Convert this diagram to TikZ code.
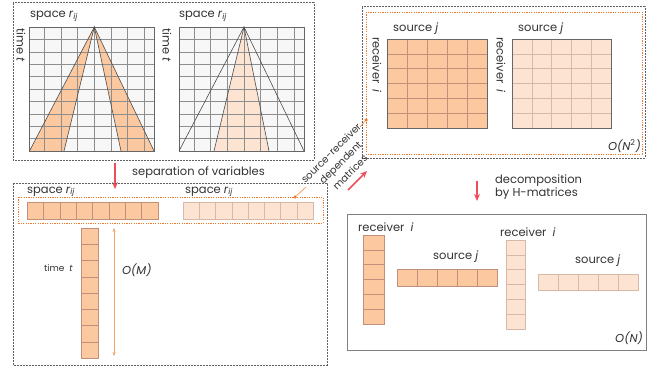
\documentclass[tikz,border=0pt]{standalone}
\usepackage{fontspec}
\setmainfont{Poppins}
\usetikzlibrary{arrows.meta}
\definecolor{orD}{HTML}{FCC8A0}
\definecolor{orDb}{HTML}{C0907A}
\definecolor{orL}{HTML}{FDE4D2}
\definecolor{orLb}{HTML}{D8B8A8}
\definecolor{gridbg}{HTML}{F7F7F7}
\definecolor{gridln}{HTML}{8E8E8E}
\definecolor{boxc}{HTML}{606060}
\definecolor{redar}{HTML}{F04E5A}
\definecolor{orln}{HTML}{F07828}
\tikzset{
  boxdash/.style={draw=boxc, line width=1pt, dash pattern=on 2pt off 1pt},
  boxsolid/.style={draw=boxc!80, line width=0.8pt},
  ordash/.style={draw=orln, line width=0.6pt, dash pattern=on 1.2pt off 1.2pt},
  gl/.style={draw=gridln, line width=0.45pt},
  tri/.style={draw=black!70, line width=0.6pt},
  dk/.style={fill=orD, draw=orDb, line width=0.5pt},
  lt/.style={fill=orL, draw=orLb, line width=0.5pt},
  redarrow/.style={draw=redar, line width=1.6pt, -{Stealth[length=7pt,width=6pt]}},
  lbl/.style={inner sep=0pt, text=black!80, font=\fontsize{11.5}{13.5}\selectfont},
  lead/.style={draw=orln, line width=0.5pt},
  dot/.style={circle, fill=orln, inner sep=0pt, minimum size=3.5pt}
}
\newcommand{\rij}{space \textit{r}\textsubscript{\textit{ij}}}
\begin{document}
\begin{tikzpicture}[x=1pt,y=-1pt]
\useasboundingbox[fill=white] (0,0) rectangle (659,369);

% ---------- top-left box ----------
\draw[boxdash] (13,3) rectangle (314,160);
% grid 1
\fill[gridbg] (29.5,27) rectangle (154,151);
\fill[orD] (94.3,27) -- (29.5,151) -- (64,151) -- cycle;
\fill[orD] (94.3,27) -- (121,151) -- (154,151) -- cycle;
\foreach \k in {-3,...,3} \draw[gl] ({94.3+\k*16.67},27) -- ++(0,124);
\foreach \r in {1,...,9} \draw[gl] (29.5,{27+\r*12.4}) -- (154,{27+\r*12.4});
\draw[gl, draw=black!60] (29.5,27) rectangle (154,151);
\draw[tri] (29.5,151) -- (94.3,27) -- (154,151);
\draw[tri] (64,151) -- (94.3,27) -- (121,151);
\node[lbl, anchor=base west] (sp1) at (30,18) {\rij};
\node[lbl, rotate=-90] (tm1) at (21,45) {time \textit{t}};
% grid 2
\fill[gridbg] (179,27) rectangle (304,151);
\fill[orL] (244,27) -- (214,151) -- (269,151) -- cycle;
\foreach \k in {-3,...,3} \draw[gl] ({244+\k*16.67},27) -- ++(0,124);
\foreach \r in {1,...,9} \draw[gl] (179,{27+\r*12.4}) -- (304,{27+\r*12.4});
\draw[gl, draw=black!60] (179,27) rectangle (304,151);
\draw[tri] (179,151) -- (244,27) -- (304,151);
\draw[tri] (214,151) -- (244,27) -- (269,151);
\node[lbl, anchor=base west] (sp2) at (179,18) {\rij};
\node[lbl, rotate=-90] (tm2) at (167,45) {time \textit{t}};

% ---------- top-right box ----------
\draw[boxdash] (362,7) rectangle (645,158);
\draw[ordash] (366,12) rectangle (642,154);
\foreach \c in {0,...,4} \foreach \r in {0,...,5}
  \draw[dk] ({387+\c*20},{39+\r*14.83}) rectangle ++(20,14.83);
\foreach \c in {0,...,4} \foreach \r in {0,...,5}
  \draw[lt] ({512+\c*19.8},{39+\r*14.83}) rectangle ++(19.8,14.83);
\draw[black!60, line width=0.6pt] (387,39) rectangle (487,128);
\draw[black!60, line width=0.6pt] (512,39) rectangle (611,128);
\node[lbl, anchor=base west] (so1) at (393,32) {source \textit{j}};
\node[lbl, anchor=base west] (so2) at (518,32) {source \textit{j}};
\node[lbl, rotate=-90, anchor=west] (re1) at (377,37) {receiver\ \ \textit{i}};
\node[lbl, rotate=-90, anchor=west] (re2) at (501,37) {receiver\ \ \textit{i}};
\node[lbl, anchor=base east] (on2) at (641,150) {\textit{O(N}\textsuperscript{2}\textit{)}};
\node[dot] (d1) at (366,120) {};

% ---------- arrow 1 & label ----------
\coordinate (a1s) at (115,163);
\coordinate (a1e) at (115,189);
\draw[redarrow] (a1s) -- (a1e);
\node[lbl, anchor=west] (sepv) at (132,173) {separation of variables};

% ---------- bottom-left box ----------
\draw[boxdash] (13,183) rectangle (327,365);
\draw[ordash] (18,197) rectangle (323,223);
\foreach \c in {0,...,7} \draw[dk] ({27+\c*16.375},202) rectangle ++(16.375,17);
\foreach \c in {0,...,7} \draw[lt] ({183+\c*16.25},202) rectangle ++(16.25,17);
\node[lbl, anchor=base west] (sp3) at (27,193) {\rij};
\node[lbl, anchor=base west] (sp4) at (185,193) {\rij};
\foreach \r in {0,...,7} \draw[dk] (81,{228+\r*16.25}) rectangle ++(17,16.25);
\node[lbl, font=\fontsize{9}{11}\selectfont, anchor=west] (tm3) at (44,268) {time\ \ \textit{t}};
\coordinate (om1) at (114,228);
\coordinate (om2) at (114,356);
\draw[draw=orln!70, line width=0.6pt, {Stealth[length=4pt,width=3pt]}-{Stealth[length=4pt,width=3pt]}] (om1) -- (om2);
\node[lbl, anchor=west] (omt) at (122,270) {\textit{O(M)}};
\node[dot] (d2) at (295,197) {};

% ---------- source-receiver label ----------
\node[lbl, rotate=45, align=center, font=\fontsize{10}{13.5}\selectfont] (srd) at (340.5,162.5)
  {source-receiver\\dependent\\matrices};
\coordinate (l1) at (306,187);
\coordinate (l2) at (360,127);
\draw[lead] (d2) -- (l1);
\draw[lead] (d1) -- (l2);
\coordinate (a2s) at (348,190);
\coordinate (a2e) at (367,171);
\draw[redarrow] (a2s) -- (a2e);

% ---------- arrow 3 & label ----------
\coordinate (a3s) at (477,181);
\coordinate (a3e) at (477,201);
\draw[redarrow] (a3s) -- (a3e);
\node[lbl, anchor=west, align=left] (dec) at (495,187) {decomposition\\by H-matrices};

% ---------- bottom-right box ----------
\draw[boxsolid] (347,214) rectangle (646,350);
\node[lbl, anchor=base west] (re3) at (358,231) {receiver\ \ \textit{i}};
\foreach \r in {0,...,5} \draw[dk] (363,{235+\r*14.83}) rectangle ++(21,14.83);
\node[lbl, anchor=base west] (so3) at (433,259) {source \textit{j}};
\foreach \c in {0,...,4} \draw[dk] ({397+\c*20},269) rectangle ++(20,17);
\node[lbl, anchor=base west] (re4) at (500,236) {receiver\ \ \textit{i}};
\foreach \r in {0,...,5} \draw[lt] (506,{240+\r*14.83}) rectangle ++(19.5,14.83);
\node[lbl, anchor=base west] (so4) at (575,263) {source \textit{j}};
\foreach \c in {0,...,4} \draw[lt] ({538+\c*20},274) rectangle ++(20,16);
\node[lbl, anchor=base east] (on1) at (643,342) {\textit{O(N)}};
\end{tikzpicture}
\end{document}
